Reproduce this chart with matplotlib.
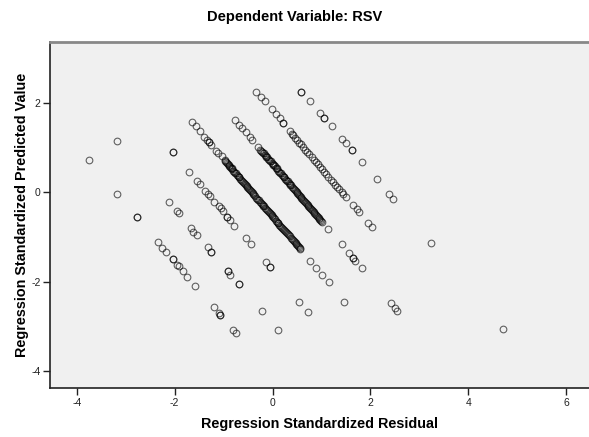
import numpy as np
import matplotlib.pyplot as plt

# Standardized residuals / predicted values
# (each band = one observed value of RSV)
res_a = [-3.76, -3.17, -2.78, -2.78, -2.35, -2.25, -2.17, -2.04, -2.04, -1.95, -1.91,
         -1.83, -1.75, -1.58, -1.20, -1.10, -1.08, -1.08, -0.81, -0.75]
pred_a = [0.71, -0.05, -0.55, -0.55, -1.11, -1.24, -1.34, -1.50, -1.50, -1.63, -1.65,
          -1.76, -1.89, -2.10, -2.57, -2.71, -2.74, -2.74, -3.08, -3.15]

res_b = [-3.17, -2.11, -1.96, -1.92, -1.66, -1.62, -1.54, -1.32, -1.25, -1.25,
         -0.91, -0.91, -0.87, -0.68, -0.68, -0.22, 0.12]
pred_b = [1.14, -0.21, -0.41, -0.47, -0.81, -0.88, -0.96, -1.23, -1.33, -1.33,
          -1.76, -1.76, -1.85, -2.06, -2.06, -2.66, -3.08]

res_c = [-2.04, -2.04, -1.71, -1.55, -1.49, -1.38, -1.32, -1.28, -1.20, -1.10, -1.06,
         -1.01, -0.94, -0.94, -0.87, -0.79, -0.55, -0.45, -0.14, -0.06, -0.06, 0.54, 0.72]
pred_c = [0.89, 0.89, 0.45, 0.25, 0.18, 0.03, -0.04, -0.08, -0.21, -0.32, -0.36,
          -0.42, -0.55, -0.55, -0.63, -0.75, -1.03, -1.16, -1.57, -1.68, -1.68, -2.45, -2.67]

res_d = [-1.65, -1.57, -1.49, -1.40, -1.33, -1.30, -1.30, -1.25, -1.15, -1.11, -1.04,
         -0.98, -0.95, -0.92, -0.88, -0.85, -0.82, -0.78, -0.75, -0.71, -0.68, -0.64,
         -0.60, -0.57, -0.53, -0.50, -0.46, -0.42, -0.39, -0.35, -0.31, -0.28, -0.24,
         -0.20, -0.17, -0.13, -0.10, -0.06, -0.02, 0.01, 0.05, 0.09, 0.12, 0.16, 0.20,
         0.23, 0.27, 0.31, 0.35, 0.39, 0.43, 0.47, 0.50, 0.54, 0.57,
         0.76, 0.89, 1.01, 1.15, 1.46]
pred_d = [1.57, 1.48, 1.36, 1.24, 1.16, 1.12, 1.12, 1.06, 0.91, 0.87, 0.80,
          0.71, 0.67, 0.64, 0.58, 0.55, 0.51, 0.46, 0.42, 0.37, 0.33, 0.28,
          0.23, 0.19, 0.14, 0.10, 0.05, 0.00, -0.04, -0.09, -0.15, -0.18, -0.24,
          -0.29, -0.32, -0.38, -0.41, -0.47, -0.52, -0.56, -0.61, -0.66, -0.70, -0.75, -0.80,
          -0.84, -0.89, -0.94, -0.99, -1.04, -1.09, -1.14, -1.18, -1.23, -1.27,
          -1.55, -1.70, -1.85, -2.02, -2.45]
# overlapping cases inside the solid part of the same band
res_d2 = [-0.965, -0.935, -0.90, -0.865, -0.835, -0.80, -0.765, -0.73, -0.695, -0.66,
          -0.62, -0.585, -0.55, -0.515, -0.48, -0.44, -0.405, -0.37, -0.33, -0.295,
          -0.26, -0.22, -0.185, -0.15, -0.115, -0.08, -0.04, -0.005, 0.03, 0.07, 0.105,
          0.14, 0.18, 0.215, 0.25, 0.29, 0.33, 0.37, 0.41, 0.45, 0.485, 0.52, 0.555]
pred_d2 = [0.69, 0.655, 0.61, 0.565, 0.53, 0.485, 0.44, 0.395, 0.35, 0.305,
           0.255, 0.21, 0.165, 0.12, 0.075, 0.025, -0.02, -0.065, -0.12, -0.165,
           -0.21, -0.265, -0.305, -0.35, -0.395, -0.44, -0.495, -0.54, -0.585, -0.635, -0.68,
           -0.725, -0.775, -0.82, -0.865, -0.915, -0.965, -1.015, -1.065, -1.115, -1.16, -1.205, -1.25]

res_e = [-0.77, -0.68, -0.62, -0.55, -0.46, -0.43, -0.29,
         -0.25, -0.21, -0.18, -0.14, -0.11, -0.07, -0.04, 0.00, 0.03, 0.07, 0.10, 0.14,
         0.17, 0.21, 0.24, 0.28, 0.31, 0.35, 0.38, 0.42, 0.45, 0.49, 0.52, 0.56, 0.59,
         0.63, 0.66, 0.70, 0.73, 0.77, 0.80, 0.84, 0.87, 0.91, 0.94, 0.98, 1.02,
         1.14, 1.41, 1.57, 1.65, 1.65, 1.68, 1.82, 2.43, 2.50, 2.55]
pred_e = [1.62, 1.51, 1.43, 1.35, 1.24, 1.17, 1.02,
          0.95, 0.90, 0.87, 0.81, 0.78, 0.72, 0.69, 0.63, 0.60, 0.55, 0.51, 0.46,
          0.42, 0.37, 0.33, 0.28, 0.24, 0.19, 0.15, 0.10, 0.06, 0.01, -0.03, -0.08, -0.12,
          -0.17, -0.21, -0.26, -0.30, -0.35, -0.39, -0.44, -0.48, -0.53, -0.57, -0.62, -0.67,
          -0.83, -1.16, -1.36, -1.48, -1.48, -1.54, -1.70, -2.48, -2.58, -2.65]
res_e2 = [-0.23, -0.195, -0.16, -0.125, -0.09, -0.055, -0.02, 0.015, 0.05, 0.085,
          0.12, 0.155, 0.19, 0.225, 0.26, 0.295, 0.33, 0.365, 0.40, 0.435, 0.47,
          0.505, 0.54, 0.575, 0.61, 0.645, 0.68, 0.715, 0.75, 0.785, 0.82, 0.855,
          0.89, 0.925, 0.96, 1.00]
pred_e2 = [0.925, 0.885, 0.84, 0.795, 0.75, 0.705, 0.66, 0.615, 0.575, 0.53,
           0.485, 0.44, 0.395, 0.35, 0.305, 0.26, 0.215, 0.17, 0.125, 0.08, 0.035,
           -0.01, -0.055, -0.10, -0.145, -0.19, -0.235, -0.28, -0.325, -0.37, -0.415, -0.46,
           -0.505, -0.55, -0.595, -0.645]

res_f = [-0.33, -0.24, -0.16, -0.02, 0.07, 0.15, 0.21, 0.21,
         0.35, 0.39, 0.42, 0.46, 0.50, 0.55, 0.58, 0.62, 0.67, 0.71, 0.75, 0.80, 0.84,
         0.88, 0.92, 0.97, 1.01, 1.06, 1.10, 1.14, 1.19, 1.23, 1.28, 1.32, 1.36, 1.41,
         1.45, 1.50, 1.65, 1.72, 1.76, 1.95, 2.04]
pred_f = [2.23, 2.13, 2.03, 1.86, 1.74, 1.66, 1.55, 1.55,
          1.36, 1.31, 1.27, 1.22, 1.17, 1.10, 1.07, 1.01, 0.95, 0.90, 0.85, 0.78, 0.73,
          0.68, 0.63, 0.57, 0.52, 0.45, 0.40, 0.35, 0.28, 0.23, 0.17, 0.12, 0.07, 0.00,
          -0.05, -0.11, -0.28, -0.38, -0.45, -0.68, -0.78]

res_g = [0.59, 0.59, 0.76, 0.97, 1.06, 1.06, 1.21, 1.41, 1.50, 1.62, 1.62, 1.82,
         2.13, 2.38, 2.47, 3.24, 4.72]
pred_g = [2.23, 2.23, 2.03, 1.77, 1.66, 1.66, 1.47, 1.19, 1.10, 0.94, 0.94, 0.68,
          0.29, -0.04, -0.16, -1.14, -3.05]

resid = np.concatenate([res_a, res_b, res_c, res_d, res_d2, res_e, res_e2, res_f, res_g])
pred = np.concatenate([pred_a, pred_b, pred_c, pred_d, pred_d2, pred_e, pred_e2, pred_f, pred_g])

plt.rcParams['font.family'] = ['Liberation Sans', 'DejaVu Sans']
plt.rcParams['axes.unicode_minus'] = False

fig = plt.figure(figsize=(5.89, 4.37), dpi=100)
ax = fig.add_axes([0.0857, 0.1121, 0.9143, 0.7929])
ax.set_facecolor('#f0f0f0')

ax.plot(resid, pred, 'o', ms=4.8, mfc='none', mec='black', mew=0.8, alpha=0.6)

ax.set_xlim(-4.54, 6.47)
ax.set_ylim(-4.38, 3.37)
ax.set_xticks([-4, -2, 0, 2, 4, 6])
ax.set_yticks([-4, -2, 0, 2])
ax.tick_params(labelsize=7.5, length=5, width=1, colors='#222222', pad=2)

for s in ['left', 'bottom']:
    ax.spines[s].set_color('#222222')
    ax.spines[s].set_linewidth(1.2)
ax.spines['top'].set_color('#888888')
ax.spines['top'].set_linewidth(2)
ax.spines['right'].set_visible(False)

ax.set_xlabel('Regression Standardized Residual', fontsize=10.4, fontweight='bold', labelpad=7)
ax.set_ylabel('Regression Standardized Predicted Value', fontsize=10.4, fontweight='bold', labelpad=2)
fig.text(0.5, 0.962, 'Dependent Variable: RSV', ha='center', va='center',
         fontsize=10.5, fontweight='bold')

fig.savefig('out.png', dpi=100)
